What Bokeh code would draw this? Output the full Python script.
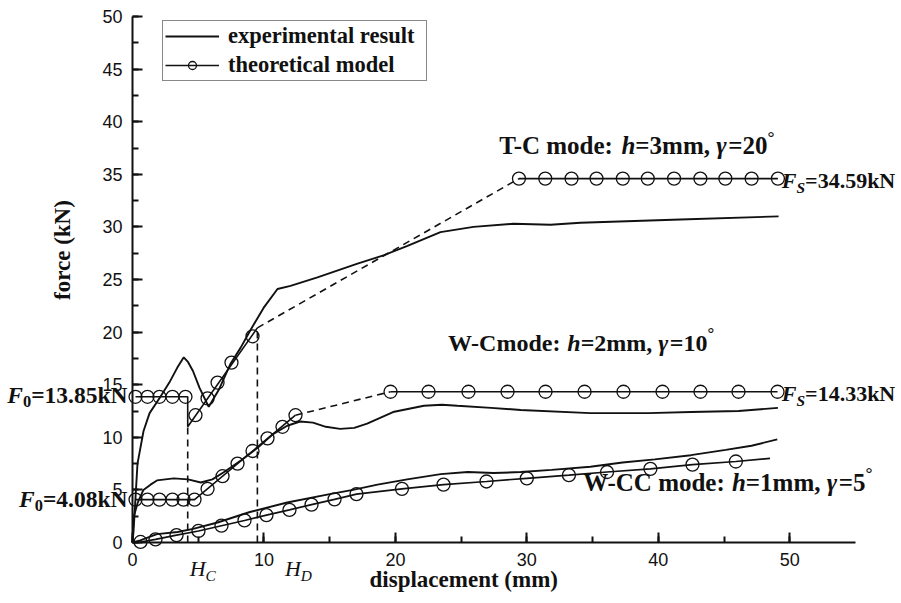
from bokeh.plotting import figure
from bokeh.models import Range1d, SingleIntervalTicker, Label, Legend, LegendItem
from bokeh.embed import file_html
from bokeh.resources import INLINE
import math

# ---------------- data (displacement mm, force kN) ----------------
# T-C mode, h = 3 mm, gamma = 20 deg
tc_exp_x = [0, 0.08, 0.38, 0.84, 1.3, 2.1, 2.8, 3.4, 3.9, 4.2, 4.6, 5.1, 5.8,
            6.6, 7.46, 8.22, 8.98, 9.97, 11.03, 12.02, 14.07, 17.12, 19.09,
            20.92, 23.43, 25.94, 28.98, 31.8, 34.08, 41.69, 49.15]
tc_exp_y = [0, 1.1, 7.5, 10.6, 12.3, 13.8, 15.2, 16.6, 17.6, 17.2, 16.3, 14.7, 12.9,
            14.6, 17.0, 18.5, 20.2, 22.3, 24.1, 24.4, 25.2, 26.5, 27.3,
            28.2, 29.5, 30.0, 30.3, 30.2, 30.4, 30.7, 31.0]
tc_theo_x = [0.23, 4.2, 4.2, 9.5, 29.4, 49.1]
tc_theo_y = [13.85, 13.85, 11.0, 20.4, 34.59, 34.59]
tc_mark_x = [0.23, 1.14, 2.05, 3.04, 4.03, 4.79, 5.71, 6.47, 7.53, 9.13,
             29.4, 31.4, 33.4, 35.3, 37.3, 39.2, 41.2, 43.2, 45.1, 47.1, 49.1]
tc_mark_y = [13.85, 13.85, 13.85, 13.85, 13.85, 12.1, 13.7, 15.2, 17.1, 19.6,
             34.59, 34.59, 34.59, 34.59, 34.59, 34.59, 34.59, 34.59, 34.59, 34.59, 34.59]

# W-C mode, h = 2 mm, gamma = 10 deg
wc_exp_x = [0, 0.08, 0.4, 0.83, 1.37, 1.86, 3.14, 4.22, 5.2, 6.08, 6.97, 8.24,
            9.52, 10.69, 11.77, 12.75, 13.73, 14.71, 15.79, 16.87, 17.85, 19.82,
            22.17, 23.54, 24.72, 27.27, 29.53, 34.83, 39.24, 42.48, 46.11, 49.1]
wc_exp_y = [0, 2.4, 3.8, 5.0, 5.5, 5.9, 6.1, 6.0, 5.7, 6.0, 6.7, 7.8,
            9.0, 10.3, 11.1, 11.5, 11.4, 11.0, 10.8, 10.9, 11.3, 12.4,
            13.0, 13.1, 13.0, 12.8, 12.6, 12.3, 12.3, 12.4, 12.5, 12.8]
wc_theo_x = [0.23, 4.72, 12.4, 19.63, 49.07]
wc_theo_y = [4.08, 4.08, 12.1, 14.33, 14.33]
wc_mark_x = [0.23, 1.14, 2.05, 3.04, 3.88, 4.72, 5.71, 6.85, 7.99, 9.13, 10.27,
             11.41, 12.4, 19.63, 22.52, 25.56, 28.53, 31.42, 34.39, 37.35,
             40.32, 43.21, 46.1, 49.07]
wc_mark_y = [4.08, 4.08, 4.08, 4.08, 4.08, 4.08, 5.1, 6.3, 7.5, 8.7, 9.9,
             11.0, 12.1, 14.33, 14.33, 14.33, 14.33, 14.33, 14.33, 14.33,
             14.33, 14.33, 14.33, 14.33]

# W-CC mode, h = 1 mm, gamma = 5 deg
wcc_exp_x = [0, 0.59, 1.86, 3.43, 4.61, 6.47, 8.93, 11.77, 15.0, 16.77, 18.64,
             20.9, 23.45, 25.5, 27.47, 29.53, 31.88, 34.83, 37.28, 39.73, 42.48,
             45.13, 47.09, 49.05]
wcc_exp_y = [0, 0.2, 0.8, 1.0, 1.3, 1.9, 2.9, 3.8, 4.6, 5.0, 5.5,
             6.0, 6.5, 6.7, 6.6, 6.7, 6.9, 7.2, 7.6, 7.9, 8.3,
             8.8, 9.2, 9.8]
wcc_theo_x = [0, 0.61, 1.75, 3.35, 5.02, 6.77, 8.52, 10.19, 11.94, 13.62, 15.37,
              17.04, 20.5, 23.66, 26.93, 30.0, 33.2, 36.1, 39.4, 42.6, 45.9, 48.5]
wcc_theo_y = [0, 0.05, 0.3, 0.7, 1.1, 1.6, 2.1, 2.6, 3.1, 3.6, 4.1,
              4.6, 5.1, 5.5, 5.8, 6.1, 6.4, 6.7, 7.0, 7.4, 7.7, 8.0]

# characteristic displacements H_C and H_D
h_c = tc_theo_x[1]
h_d = tc_theo_x[3]

x_axis_span = (0, 54.99)
y_axis_span = (0, 50)
x_tick_interval = 10
y_tick_interval = 5

# ---------------- figure ----------------
INK = "#111111"
SERIF = "Liberation Serif"

# the frame fills the whole canvas; the axes sit at x = 0 and y = 0
W, H = 901, 603
X_PX, Y_PX = 13.145, 10.52          # pixels per mm / per kN
X0 = -132 / X_PX
Y1 = 50 + 16 / Y_PX

p = figure(width=W, height=H, output_backend="svg", toolbar_location=None,
           x_range=Range1d(X0, X0 + W / X_PX), y_range=Range1d(Y1 - H / Y_PX, Y1),
           min_border=0)
p.outline_line_color = None
p.xgrid.visible = False
p.ygrid.visible = False
p.background_fill_color = "white"
p.border_fill_color = "white"

p.xaxis.ticker = SingleIntervalTicker(interval=x_tick_interval, num_minor_ticks=2)
p.yaxis.ticker = SingleIntervalTicker(interval=y_tick_interval, num_minor_ticks=2)
p.xaxis.fixed_location = 0
p.yaxis.fixed_location = 0
p.xaxis.bounds = x_axis_span
p.yaxis.bounds = y_axis_span
for ax in (p.xaxis, p.yaxis):
    ax.axis_line_width = 2
    ax.axis_line_color = INK
    ax.major_tick_in = 10
    ax.major_tick_out = 0
    ax.minor_tick_in = 6
    ax.minor_tick_out = 0
    ax.major_tick_line_width = 2
    ax.minor_tick_line_width = 2
    ax.major_tick_line_color = INK
    ax.minor_tick_line_color = INK
    ax.major_label_text_font = "Liberation Sans"
    ax.major_label_text_font_size = "18px"
    ax.major_label_text_color = INK
p.yaxis.major_label_standoff = 10
p.xaxis.major_label_standoff = 10

# ---------------- curves ----------------
EXP_W = 1.9
THEO_W = 1.6
MARK = 13

exp_r = p.line(tc_exp_x, tc_exp_y, line_color=INK, line_width=EXP_W)
p.line(wc_exp_x, wc_exp_y, line_color=INK, line_width=EXP_W)
p.line(wcc_exp_x, wcc_exp_y, line_color=INK, line_width=EXP_W)

# theoretical model: solid stages joined by dashed transitions
theo_r = p.line(tc_theo_x[:4], tc_theo_y[:4], line_color=INK, line_width=THEO_W)
p.line(tc_theo_x[3:5], tc_theo_y[3:5], line_color=INK, line_width=THEO_W, line_dash="7 5")
p.line(tc_theo_x[4:], tc_theo_y[4:], line_color=INK, line_width=THEO_W)

p.line(wc_theo_x[:3], wc_theo_y[:3], line_color=INK, line_width=THEO_W)
p.line(wc_theo_x[2:4], wc_theo_y[2:4], line_color=INK, line_width=THEO_W, line_dash="7 5")
p.line(wc_theo_x[3:], wc_theo_y[3:], line_color=INK, line_width=THEO_W)

p.line(wcc_theo_x, wcc_theo_y, line_color=INK, line_width=THEO_W)

mark_kw = dict(marker="circle", size=MARK, fill_color=None, line_color=INK, line_width=1.3)
mark_r = p.scatter(tc_mark_x, tc_mark_y, **mark_kw)
p.scatter(wc_mark_x, wc_mark_y, **mark_kw)
p.scatter(wcc_theo_x[1:-1], wcc_theo_y[1:-1], **mark_kw)

# H_C and H_D guide lines
p.segment(x0=[h_c, h_d], y0=[0, 0], x1=[h_c, h_d], y1=[tc_theo_y[2], tc_theo_y[3]],
          line_color=INK, line_width=1.6, line_dash="7 5")

# ---------------- legend ----------------
legend = Legend(items=[LegendItem(label="experimental result", renderers=[exp_r]),
                       LegendItem(label="theoretical model", renderers=[theo_r, mark_r])],
                location=(162, 522), label_text_font=SERIF, label_text_font_style="bold",
                label_text_font_size="22.5px", label_text_color=INK,
                glyph_width=54, glyph_height=20, label_height=20, label_width=196,
                spacing=3, padding=2, margin=0, label_standoff=9,
                border_line_color=INK, border_line_width=1.2,
                background_fill_alpha=1.0)
p.add_layout(legend, "center")

# ---------------- annotations ----------------
METRICS = {" ": 250, "-": 333, ":": 333, "=": 570, ",": 250, ".": 250, "(": 333, ")": 333,
           "T": 667, "C": 722, "W": 1000, "F": 667, "S": 556, "N": 722, "H": 722, "D": 722,
           "m": 833, "o": 500, "d": 556, "e": 444, "k": 556, "h": 556, "\u03b3": 480,
           "\u00b0": 400}


def text_width(s, size):
    return sum(METRICS.get(ch, 500) for ch in s) * size / 1000.0


def rich_label(x, y, pieces, size, align="left", style="bold"):
    """pieces: (text, italic, scale, dy) drawn side by side on one baseline."""
    widths = [text_width(t, size * sc) for t, it, sc, dy in pieces]
    off = -sum(widths) if align == "right" else 0.0
    for (t, it, sc, dy), w in zip(pieces, widths):
        st = style
        if it:
            st = "bold italic" if style == "bold" else "italic"
        p.add_layout(Label(x=x, y=y, x_offset=off, y_offset=dy, text=t,
                           text_font=SERIF, text_font_style=st,
                           text_font_size=f"{size * sc:.1f}px", text_color=INK,
                           text_baseline="alphabetic", text_align="left"))
        off += w


def mode_label(x, y, head, h, gamma, size):
    rich_label(x, y, [(head, False, 1, 0), ("h", True, 1, 0), (f"={h}mm, ", False, 1, 0),
                      ("\u03b3", True, 1, 0), (f"={gamma}", False, 1, 0),
                      ("\u00b0", False, 0.7, 9)], size)


def force_label(x, y, sub, val, size, align="left"):
    rich_label(x, y, [("F", True, 1, 0), (sub, sub == "S", 0.7, -7),
                      (f"={val}kN", False, 1, 0)], size, align=align)


mode_label(27.9, 37.7, "T-C mode: ", 3, 20, 25)
mode_label(24.0, 19.0, "W-Cmode: ", 2, 10, 24)
mode_label(34.3, 5.75, "W-CC mode: ", 1, 5, 25)

force_label(49.4, tc_theo_y[-1] - 0.2, "S", "34.59", 22)
force_label(49.4, wc_theo_y[-1] - 0.2, "S", "14.33", 22)
force_label(-0.38, tc_theo_y[0] + 0.2, "0", "13.85", 23.5, align="right")
force_label(-0.38, wc_theo_y[0] + 0.1, "0", "4.08", 23.5, align="right")

rich_label(h_c + 0.15, -2.45, [("H", True, 1, 0), ("C", True, 0.7, -7)], 22, style="normal")
rich_label(11.6, -2.45, [("H", True, 1, 0), ("D", True, 0.7, -7)], 22, style="normal")

# axis titles
p.add_layout(Label(x=-5.3, y=27.8, text="force (kN)", angle=math.pi / 2,
                   text_font=SERIF, text_font_style="bold", text_font_size="23px",
                   text_color=INK, text_align="center", text_baseline="middle"))
p.add_layout(Label(x=25.2, y=-3.55, text="displacement (mm)",
                   text_font=SERIF, text_font_style="bold", text_font_size="23px",
                   text_color=INK, text_align="center", text_baseline="middle"))

open("out.html", "w").write(file_html(p, INLINE))
